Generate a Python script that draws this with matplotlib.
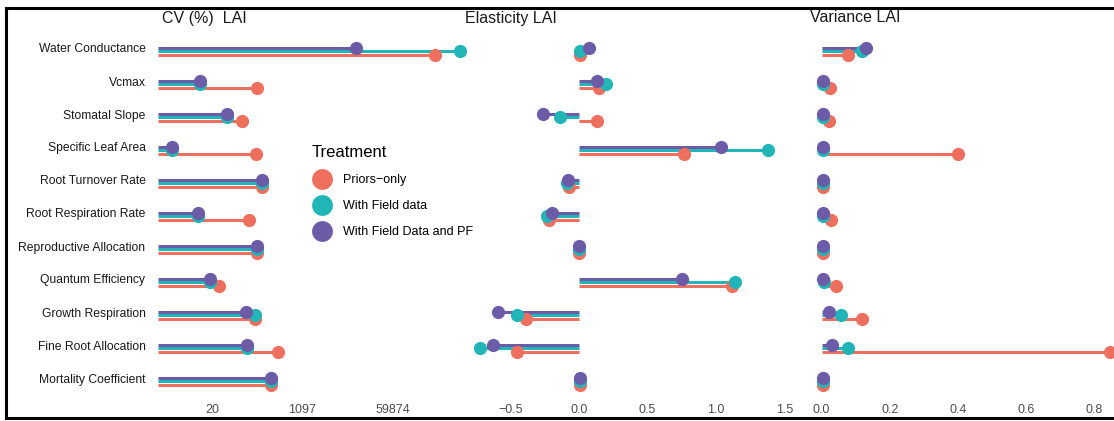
import numpy as np
import matplotlib
matplotlib.use("Agg")
import matplotlib.pyplot as plt
from matplotlib.lines import Line2D

plt.rcParams['font.family'] = ['Liberation Sans', 'DejaVu Sans']

params = ["Water Conductance", "Vcmax", "Stomatal Slope", "Specific Leaf Area",
          "Root Turnover Rate", "Root Respiration Rate", "Reproductive Allocation",
          "Quantum Efficiency", "Growth Respiration", "Fine Root Allocation",
          "Mortality Coefficient"]

treatments = ["Priors\u2212only", "With Field data", "With Field Data and PF"]
colors = ["#EF6F5F", "#22B5B8", "#6C5CA8"]

# CV (%) of LAI, log scale
cv_prior = [390000, 147, 76, 141, 183, 103, 147, 27.4, 134, 373, 273]
cv_field = [1170000, 11.8, 38, 3.4, 183, 10.8, 147, 18.4, 134, 94.6, 273]
cv_pf = [11700, 11.8, 39, 3.4, 183, 10.8, 147, 18.4, 90, 94.6, 273]

# elasticity of LAI
el_prior = [0.005, 0.145, 0.13, 0.77, -0.07, -0.22, 0.0, 1.12, -0.39, -0.45, 0.01]
el_field = [0.01, 0.20, -0.14, 1.38, -0.09, -0.23, 0.0, 1.14, -0.45, -0.72, 0.01]
el_pf = [0.07, 0.13, -0.26, 1.04, -0.08, -0.20, 0.0, 0.75, -0.59, -0.63, 0.01]

# variance of LAI
var_prior = [0.077, 0.026, 0.023, 0.40, 0.005, 0.029, 0.003, 0.043, 0.12, 0.845, 0.003]
var_field = [0.12, 0.003, 0.005, 0.003, 0.005, 0.003, 0.003, 0.008, 0.058, 0.077, 0.003]
var_pf = [0.129, 0.003, 0.003, 0.003, 0.003, 0.003, 0.003, 0.003, 0.023, 0.032, 0.003]

cv_ticks = np.exp([3, 7, 11])
cv_ticklabels = ["20", "1097", "59874"]
el_ticks = [-0.5, 0.0, 0.5, 1.0, 1.5]
var_ticks = [0.0, 0.2, 0.4, 0.6, 0.8]

W, H = 1114, 421
fig = plt.figure(figsize=(W / 100, H / 100), dpi=100)

y = np.arange(len(params), 0, -1).astype(float)
offsets = [-0.2, -0.1, 0.0]   # priors, field, field+PF

top_px, bot_px = 25, 400
ylim = (1 - (bot_px - 378) / 33, 11 + (48 - top_px) / 33)


def make_panel(x0, x1):
    ax = fig.add_axes([x0 / W, (H - bot_px) / H, (x1 - x0) / W, (bot_px - top_px) / H])
    for s in ax.spines.values():
        s.set_visible(False)
    ax.set_ylim(*ylim)
    ax.tick_params(axis='x', length=0, pad=3, labelsize=9, labelcolor="#4D4D4D")
    ax.tick_params(axis='y', length=0)
    ax.set_yticks([])
    ax.patch.set_alpha(0)
    return ax


def lollipops(ax, series, base):
    for vals, off, col in zip(series, offsets, colors):
        ax.hlines(y + off, base, vals, color=col, lw=2.2, clip_on=False, zorder=2)
    for vals, off, col in zip(series, offsets, colors):
        ax.plot(vals, y + off, 'o', color=col, ms=9.5, mew=0, clip_on=False, zorder=3)


def panel_title(ax, text, x_px):
    fig.text(x_px / W, 1 - 18 / H, text, fontsize=11.5, color="#1A1A1A",
             ha='left', va='center')


# CV panel
ax1 = make_panel(158, 474)
ax1.set_xscale('log')
ax1.set_xlim(np.exp(0.59), np.exp(14.61))
lollipops(ax1, [cv_prior, cv_field, cv_pf], np.exp(0.59))
ax1.set_xticks(cv_ticks)
ax1.set_xticklabels(cv_ticklabels)
ax1.minorticks_off()
ax1.set_yticks(y)
ax1.set_yticklabels(params, fontsize=8.7, color="#1A1A1A")
ax1.tick_params(axis='y', pad=9)
panel_title(ax1, "CV (%)  LAI", 162)

# elasticity panel
ax2 = make_panel(474, 800)
ax2.set_xlim(-(579 - 474) / 137, (800 - 579) / 137)
lollipops(ax2, [el_prior, el_field, el_pf], 0.0)
ax2.set_xticks(el_ticks)
ax2.set_xticklabels([f"{t:.1f}".replace("-", "\u2212") for t in el_ticks])
panel_title(ax2, "Elasticity LAI", 465)

# variance panel
ax3 = make_panel(807, 1126)
ax3.set_xlim(-0.0425, 0.8925)
lollipops(ax3, [var_prior, var_field, var_pf], 0.0)
ax3.set_xticks(var_ticks)
ax3.set_xticklabels([f"{t:.1f}" for t in var_ticks])
panel_title(ax3, "Variance LAI", 810)

# legend
handles = [Line2D([], [], marker='o', ls='', color=c, ms=15, mew=0) for c in colors]
leg = fig.legend(handles, treatments, title="Treatment", loc='upper left',
                 bbox_to_anchor=(307 / W, 1 - 140 / H), frameon=False,
                 fontsize=9, title_fontsize=12, handletextpad=0.9,
                 labelspacing=1.12, borderaxespad=0, handlelength=1.6)
leg._legend_box.align = "left"

# outer frame
for xs, ys in [([6 / W, 1], [1 - 8 / H, 1 - 8 / H]),
               ([6 / W, 6 / W], [1 - 8 / H, 1 - 418 / H]),
               ([6 / W, 1], [1 - 418 / H, 1 - 418 / H])]:
    fig.add_artist(Line2D(xs, ys, color="black", lw=2.2, transform=fig.transFigure))

fig.savefig("out.png", dpi=100)
